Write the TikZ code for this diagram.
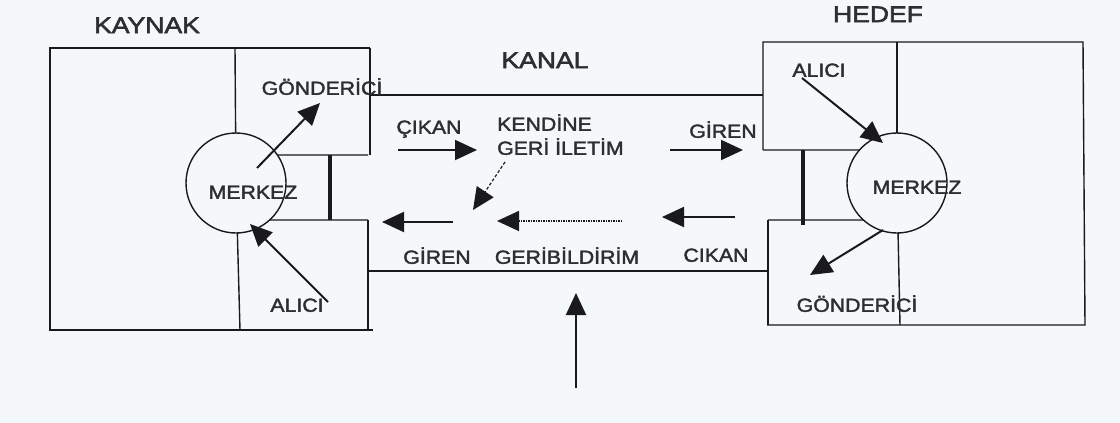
\documentclass[tikz,border=0pt]{standalone}
\usepackage{fontspec}
\setmainfont{Liberation Sans}[FakeStretch=1.12]
\newfontfamily\labfont{Liberation Sans}[FakeStretch=1.12, FakeBold=2]
\newfontfamily\ttlfont{Liberation Sans}[FakeStretch=1.18, FakeBold=2.5]
\usetikzlibrary{arrows.meta}
\definecolor{bgc}{RGB}{245,248,250}
\definecolor{ink}{RGB}{25,25,30}
\definecolor{txt}{RGB}{45,45,50}
\tikzset{
  frame/.style={draw=ink, line width=1.4pt},
  bar/.style={draw=ink, line width=3.5pt},
  lbl/.style={inner sep=0pt, text=txt, font=\labfont\fontsize{19}{22}\selectfont, text height=13.6pt, text depth=0pt},
  ttl/.style={lbl, font=\ttlfont\fontsize{22.5}{26}\selectfont, text height=16pt},
  arr/.style={draw=ink, line width=2pt, -{Triangle[length=22pt,width=20pt]}},
  core/.style={circle, draw=ink, line width=1.4pt, fill=bgc, minimum size=100pt, inner sep=0pt},
}
\begin{document}
\begin{tikzpicture}[x=1pt,y=-1pt]
\fill[bgc] (0,0) rectangle (1120,423);
\useasboundingbox (0,0) rectangle (1120,423);

% ---- left (KAYNAK) ----
\coordinate (lc) at (236,183);
\draw[frame] (370,48) -- (50,48) -- (50,330) -- (373,330);
\draw[frame] (370,48) -- (370,155);
\draw[frame] (368,220) -- (368,330);
\draw[frame] (235,48) -- (lc);
\draw[frame] (240,330) -- (lc);
\draw[frame] (lc) -- (240,155) -- (368,155);
\draw[frame] (lc) -- (240,220) -- (368,220);
\draw[bar] (330,155) -- (330,220);

% ---- right (HEDEF) ----
\coordinate (rc) at (897,183);
\draw[frame] (763,150) -- (763,42) -- (1083,42) -- (1085,325) -- (767,325);
\draw[frame] (768,220) -- (768,325);
\draw[frame] (897,42) -- (rc);
\draw[frame] (900,325) -- (rc);
\draw[frame] (763,150) -- (890,150) -- (rc);
\draw[frame] (768,220) -- (890,220) -- (rc);
\draw[bar] (803,150) -- (803,225);

% ---- channel ----
\draw[frame] (370,95) -- (763,95);
\draw[frame] (368,271) -- (768,271);

% ---- circles ----
\node[core] (lm) at (lc) {};
\node[core] (rm) at (rc) {};

% ---- labels ----
\node[ttl] (kaynak) at (147,25) {KAYNAK};
\node[ttl] (hedef) at (878,14) {HEDEF};
\node[ttl] (kanal) at (545,60) {KANAL};
\node[lbl] (lgon) at (322,88) {GÖNDERİCİ};
\node[lbl] (lmer) at (253,192) {MERKEZ};
\node[lbl] (lali) at (297,305) {ALICI};
\node[lbl] (rali) at (819,70) {ALICI};
\node[lbl] (rmer) at (917,187) {MERKEZ};
\node[lbl] (rgon) at (857,305) {GÖNDERİCİ};
\node[lbl] (cikan1) at (429,127) {ÇIKAN};
\node[lbl, anchor=west] (kend) at (497,124) {KENDİNE};
\node[lbl, anchor=west] (geri) at (497,148) {GERİ İLETİM};
\node[lbl] (giren1) at (723,131) {GİREN};
\node[lbl] (giren2) at (437,257) {GİREN};
\node[lbl] (geribil) at (567,257) {GERİBİLDİRİM};
\node[lbl] (cikan2) at (716,255) {CIKAN};

% ---- arrows ----
\coordinate (a1s) at (257,168); \coordinate (a1e) at (320,103);
\coordinate (a2s) at (328,302); \coordinate (a2e) at (250,224);
\coordinate (a3s) at (398,150); \coordinate (a3e) at (477,150);
\coordinate (a4s) at (670,150); \coordinate (a4e) at (743,150);
\coordinate (a5s) at (453,222); \coordinate (a5e) at (382,222);
\coordinate (a6s) at (622,221); \coordinate (a6e) at (497,221);
\coordinate (a7s) at (735,217); \coordinate (a7e) at (662,217);
\coordinate (a8s) at (505,162); \coordinate (a8e) at (473,210);
\coordinate (a9s) at (576,388); \coordinate (a9e) at (576,293);
\coordinate (a10s) at (802,78); \coordinate (a10e) at (883,143);
\coordinate (a11s) at (883,230); \coordinate (a11e) at (810,275);

\draw[arr] (a1s) -- (a1e);
\draw[arr] (a2s) -- (a2e);
\draw[arr] (a3s) -- (a3e);
\draw[arr] (a4s) -- (a4e);
\draw[arr] (a5s) -- (a5e);
\draw[arr, line width=1.6pt, dash pattern=on 1.5pt off 1pt] (a6s) -- (a6e);
\draw[arr] (a7s) -- (a7e);
\draw[arr, line width=1.2pt, dash pattern=on 3pt off 2pt] (a8s) -- (a8e);
\draw[arr] (a9s) -- (a9e);
\draw[arr] (a10s) -- (a10e);
\draw[arr] (a11s) -- (a11e);
\end{tikzpicture}
\end{document}
